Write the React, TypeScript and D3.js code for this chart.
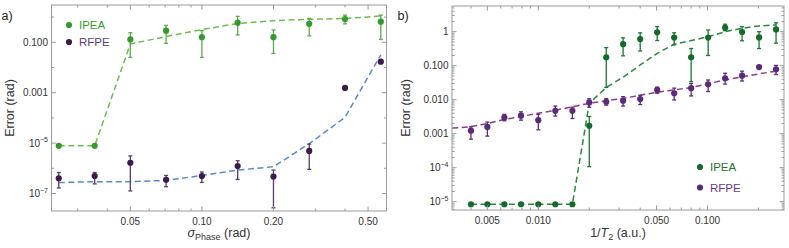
import * as d3 from "d3";

// ---- panel a) error vs phase noise
const sigmaPhase = [0.025, 0.0354, 0.05, 0.0707, 0.1, 0.1414, 0.2, 0.2828, 0.4, 0.5657];
const ipeaA = [7.8e-6, 7.8e-6, 0.13, 0.29, 0.16, 0.6, 0.16, 0.54, 0.84, 0.66];
const ipeaALo = [null, null, 0.025, 0.091, 0.025, 0.195, 0.036, 0.18, 0.54, 0.13];
const ipeaAHi = [null, null, 0.24, 0.47, 0.29, 1.07, 0.31, 0.89, 1.2, 1.2];
const ipeaAFit = [7.8e-6, 7.8e-6, 0.085, 0.17, 0.32, 0.56, 0.72, 0.82, 0.88, 1.1];
const rfpeA = [4.0e-7, 4.9e-7, 1.66e-6, 3.5e-7, 4.9e-7, 1.23e-6, 4.7e-7, 4.9e-6, 1.55e-3, 0.017];
const rfpeALo = [1.66e-7, 2.4e-7, 1.26e-7, 1.86e-7, 2.75e-7, 3.6e-7, 2.7e-8, 9.1e-7, null, null];
const rfpeAHi = [6.8e-7, 6.8e-7, 3.1e-6, 5.2e-7, 7.1e-7, 2.0e-6, 8.5e-7, 9.1e-6, null, null];
const rfpeAFit = [2.7e-7, 2.95e-7, 2.95e-7, 3.3e-7, 5.2e-7, 8.5e-7, 1.15e-6, 9.5e-6, 1.05e-4, 0.032];

const aXTicks = [0.05, 0.1, 0.2, 0.5];
const aXTickLabels = ["0.05", "0.10", "0.20", "0.50"];
const aYTicks = [0.1, 0.001, 1e-5, 1e-7];
const aYTickLabels = [["0.100"], ["0.001"], ["10", "−5"], ["10", "−7"]];
const aYMinor = [1, 0.01, 1e-4, 1e-6];

// ---- panel b) error vs 1/T2
const invT2 = [0.004, 0.005, 0.0063, 0.0079, 0.01, 0.0126, 0.0159, 0.02, 0.0252, 0.0317, 0.04, 0.0504, 0.0635, 0.08, 0.1008, 0.127, 0.16, 0.2016, 0.254];
const ipeaB = [8.4e-6, 8.4e-6, 8.4e-6, 8.4e-6, 8.4e-6, 8.4e-6, 8.4e-6, 0.0017, 0.177, 0.43, 0.61, 0.96, 0.67, 0.177, 0.67, 1.31, 0.98, 0.68, 1.17];
const ipeaBLo = [null, null, null, null, null, null, null, 1.07e-4, 0.023, 0.195, 0.27, 0.55, 0.41, 0.034, 0.2, 1.07, 0.54, 0.32, 0.46];
const ipeaBHi = [null, null, null, null, null, null, null, 0.0032, 0.34, 0.66, 0.93, 1.41, 0.93, 0.32, 1.12, 1.66, 1.41, 1.0, 1.82];
const ipeaBFit = [8.4e-6, 8.4e-6, 8.4e-6, 8.4e-6, 8.4e-6, 8.4e-6, 8.4e-6, 0.0078, 0.023, 0.046, 0.105, 0.23, 0.43, 0.55, 0.71, 1.0, 1.26, 1.48, 1.58];
const rfpeB = [0.00123, 0.00158, 0.003, 0.0034, 0.0025, 0.0047, 0.0047, 0.0083, 0.0087, 0.0093, 0.0105, 0.0194, 0.0155, 0.0218, 0.0283, 0.0427, 0.051, 0.091, 0.078];
const rfpeBLo = [0.00069, 0.00085, 0.0024, 0.0025, 0.0013, 0.0033, 0.0028, 0.006, 0.0069, 0.0065, 0.0072, 0.0155, 0.0098, 0.0129, 0.0174, 0.0288, 0.0355, null, 0.055];
const rfpeBHi = [0.0016, 0.0022, 0.0037, 0.0044, 0.0037, 0.0065, 0.006, 0.0107, 0.0107, 0.0123, 0.0135, 0.0234, 0.0219, 0.03, 0.038, 0.06, 0.069, null, 0.102];
const rfpeBFitX = [0.0031, 0.004, 0.005, 0.0063, 0.0079, 0.01, 0.0126, 0.0159, 0.02, 0.0252, 0.0317, 0.04, 0.0504, 0.0635, 0.08, 0.1008, 0.127, 0.16, 0.2016, 0.254];
const rfpeBFit = [0.00148, 0.00162, 0.002, 0.0026, 0.0032, 0.004, 0.0049, 0.0062, 0.0078, 0.0093, 0.011, 0.0135, 0.0166, 0.0195, 0.0229, 0.0295, 0.038, 0.047, 0.0575, 0.069];

const bXTicks = [0.005, 0.01, 0.05, 0.1];
const bXTickLabels = ["0.005", "0.010", "0.050", "0.100"];
const bYTicks = [1, 0.1, 0.01, 0.001, 1e-4, 1e-5];
const bYTickLabels = [["1"], ["0.100"], ["0.010"], ["0.001"], ["10", "−4"], ["10", "−5"]];

const FONT = "'Liberation Sans', Arial, sans-serif";
const FRAME = "#9a9a9a";

type Pts = {
  x: number[];
  y: number[];
  lo?: (number | null)[];
  hi?: (number | null)[];
  color: string;
  barColor: string;
};
type Fit = { x: number[]; y: number[]; color: string; smooth?: boolean };

function Panel(props: any) {
  const { xDomain, xRange, yDomain, yRange, xTicks, xTickLabels, yTicks, yTickLabels, yMinor, yLogMinor,
    fits, pts, legend, tag, tagX, xLabel, yLabelX } = props;
  const x = d3.scaleLog().domain(xDomain).range(xRange);
  const y = d3.scaleLog().domain(yDomain).range(yRange);
  const [x0, x1] = xRange;
  const [y1, y0] = yRange; // y1 bottom, y0 top

  const xMinor = x.ticks().filter((t: number) => !xTicks.some((m: number) => Math.abs(m - t) < 1e-9));
  let yMinorVals: number[] = yMinor || [];
  if (yLogMinor) {
    yMinorVals = y.ticks().filter((t: number) => !yTicks.some((m: number) => Math.abs(m - t) / m < 1e-6));
  }

  const line = (f: Fit) =>
    d3.line<number>()
      .x((_, i) => x(f.x[i]))
      .y((d) => y(d))
      .curve(f.smooth ? d3.curveMonotoneX : d3.curveLinear)(f.y) || "";

  return (
    <g fontFamily={FONT}>
      <text x={tagX} y={20} fontSize={12.5} fill="#222">{tag}</text>
      {fits.map((f: Fit, i: number) => (
        <path key={"f" + i} d={line(f)} fill="none" stroke={f.color} strokeWidth={1.5} strokeDasharray="6,3.5" />
      ))}
      {pts.map((s: Pts, si: number) => (
        <g key={"s" + si}>
          {s.x.map((xv, i) => {
            const lo = s.lo ? s.lo[i] : null;
            const hi = s.hi ? s.hi[i] : null;
            if (lo == null || hi == null) return null;
            const cx = x(xv);
            return (
              <g key={i} stroke={s.barColor} strokeWidth={1.3}>
                <line x1={cx} x2={cx} y1={y(lo)} y2={y(hi)} />
                <line x1={cx - 2} x2={cx + 2} y1={y(lo)} y2={y(lo)} />
                <line x1={cx - 2} x2={cx + 2} y1={y(hi)} y2={y(hi)} />
              </g>
            );
          })}
          {s.x.map((xv, i) => (
            <circle key={"c" + i} cx={x(xv)} cy={y(s.y[i])} r={3.1} fill={s.color} />
          ))}
        </g>
      ))}
      {/* frame */}
      <rect x={x0} y={y0} width={x1 - x0} height={y1 - y0} fill="none" stroke={FRAME} strokeWidth={1} />
      {xTicks.map((t: number, i: number) => (
        <g key={"xt" + i}>
          <line x1={x(t)} x2={x(t)} y1={y1} y2={y1 - 4.5} stroke={FRAME} />
          <line x1={x(t)} x2={x(t)} y1={y0} y2={y0 + 4.5} stroke={FRAME} />
          <text x={x(t)} y={y1 + 13.5} fontSize={10} textAnchor="middle" fill="#333">{xTickLabels[i]}</text>
        </g>
      ))}
      {xMinor.map((t: number, i: number) => (
        <g key={"xm" + i}>
          <line x1={x(t)} x2={x(t)} y1={y1} y2={y1 - 2.5} stroke={FRAME} />
          <line x1={x(t)} x2={x(t)} y1={y0} y2={y0 + 2.5} stroke={FRAME} />
        </g>
      ))}
      {yTicks.map((t: number, i: number) => {
        const lab = yTickLabels[i];
        return (
          <g key={"yt" + i}>
            <line x1={x0} x2={x0 + 4.5} y1={y(t)} y2={y(t)} stroke={FRAME} />
            <line x1={x1} x2={x1 - 4.5} y1={y(t)} y2={y(t)} stroke={FRAME} />
            <text x={x0 - 3.5} y={y(t) + 3.6} fontSize={10} textAnchor="end" fill="#333">
              {lab[0]}
              {lab.length > 1 && <tspan dy={-4.5} fontSize={7}>{lab[1]}</tspan>}
            </text>
          </g>
        );
      })}
      {yMinorVals.map((t: number, i: number) => (
        <g key={"ym" + i}>
          <line x1={x0} x2={x0 + 2.5} y1={y(t)} y2={y(t)} stroke={FRAME} />
          <line x1={x1} x2={x1 - 2.5} y1={y(t)} y2={y(t)} stroke={FRAME} />
        </g>
      ))}
      {/* legend */}
      {legend.items.map((it: any, i: number) => (
        <g key={"lg" + i}>
          <circle cx={legend.x} cy={legend.y + i * legend.dy} r={3.1} fill={it.color} />
          <text x={legend.x + 10} y={legend.y + i * legend.dy + 4} fontSize={11.5} fill={it.text}>{it.label}</text>
        </g>
      ))}
      {/* axis labels */}
      <text transform={`translate(${yLabelX},${(y0 + y1) / 2}) rotate(-90)`} fontSize={12.5} textAnchor="middle" fill="#333">
        Error (rad)
      </text>
      <text x={(x0 + x1) / 2} y={237} fontSize={12.5} textAnchor="middle" fill="#333">
        {xLabel}
      </text>
    </g>
  );
}

export default function App() {
  return (
    <svg width={789} height={248} style={{ position: "fixed", left: 0, top: 0, background: "#fff" }}>
      <Panel
        tag="a)"
        tagX={1.5}
        xDomain={[0.0233, 0.5977]}
        xRange={[51.5, 386.5]}
        yDomain={[2.02e-8, 3.02]}
        yRange={[211, 5]}
        xTicks={aXTicks}
        xTickLabels={aXTickLabels}
        yTicks={aYTicks}
        yTickLabels={aYTickLabels}
        yMinor={aYMinor}
        yLabelX={14}
        fits={[
          { x: sigmaPhase, y: ipeaAFit, color: "#6cbf4c" },
          { x: sigmaPhase, y: rfpeAFit, color: "#5a8acb" },
        ]}
        pts={[
          { x: sigmaPhase, y: ipeaA, lo: ipeaALo, hi: ipeaAHi, color: "#359a2b", barColor: "#5aad4c" },
          { x: sigmaPhase, y: rfpeA, lo: rfpeALo, hi: rfpeAHi, color: "#3a1c4c", barColor: "#5a3d6a" },
        ]}
        legend={{
          x: 69, y: 25, dy: 17,
          items: [
            { label: "IPEA", color: "#359a2b", text: "#3c9e30" },
            { label: "RFPE", color: "#3a1c4c", text: "#5e3f74" },
          ],
        }}
        xLabel={
          <>
            <tspan fontStyle="italic">σ</tspan>
            <tspan fontSize={9} dy={2.5}>Phase</tspan>
            <tspan dy={-2.5}> (rad)</tspan>
          </>
        }
      />
      <Panel
        tag="b)"
        tagX={397.5}
        xDomain={[0.00309, 0.283]}
        xRange={[452, 784]}
        yDomain={[5.7e-6, 5.7]}
        yRange={[210, 6]}
        xTicks={bXTicks}
        xTickLabels={bXTickLabels}
        yTicks={bYTicks}
        yTickLabels={bYTickLabels}
        yLogMinor={true}
        yLabelX={410}
        fits={[
          { x: invT2, y: ipeaBFit, color: "#2b8a38" },
          { x: rfpeBFitX, y: rfpeBFit, color: "#8e3d86", smooth: true },
        ]}
        pts={[
          { x: invT2, y: ipeaB, lo: ipeaBLo, hi: ipeaBHi, color: "#15692a", barColor: "#1c7530" },
          { x: invT2, y: rfpeB, lo: rfpeBLo, hi: rfpeBHi, color: "#5b2a78", barColor: "#5e2c7c" },
        ]}
        legend={{
          x: 700, y: 167, dy: 20.5,
          items: [
            { label: "IPEA", color: "#15692a", text: "#1d7330" },
            { label: "RFPE", color: "#5b2a78", text: "#6a3a88" },
          ],
        }}
        xLabel={
          <>
            <tspan>1/</tspan>
            <tspan fontStyle="italic">T</tspan>
            <tspan fontSize={9} dy={2.5}>2</tspan>
            <tspan dy={-2.5}> (a.u.)</tspan>
          </>
        }
      />
    </svg>
  );
}
